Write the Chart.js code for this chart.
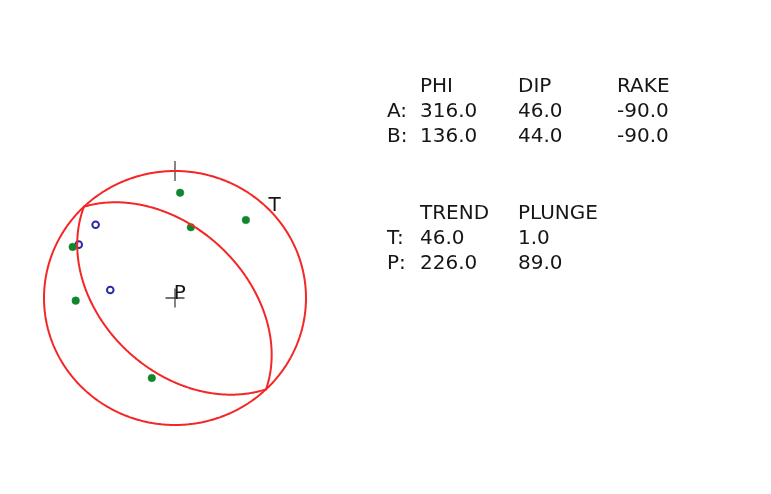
<!DOCTYPE html>
<html>
<head>
<meta charset="utf-8">
<title>Focal mechanism</title>
<script src="https://cdn.jsdelivr.net/npm/chart.js@4/dist/chart.umd.min.js"></script>
<style>
  html, body { margin: 0; padding: 0; background: #ffffff; }
  #wrap { width: 771px; height: 494px; position: relative; }
</style>
</head>
<body>
<div id="wrap"><canvas id="c" width="771" height="494"></canvas></div>
<script>
// Nodal planes (strike PHI, DIP, RAKE)
const planeNames = ['A', 'B'];
const planePhi = [316.0, 136.0];
const planeDip = [46.0, 44.0];
const planeRake = [-90.0, -90.0];

// Principal axes
const axisNames = ['T', 'P'];
const axisTrend = [46.0, 226.0];
const axisPlunge = [1.0, 89.0];

// Station polarities, projected onto the unit focal sphere (lower hemisphere)
const compX = [0.039, 0.541, 0.121, -0.781, -0.758, -0.177];
const compY = [0.829, 0.614, 0.557, 0.402, -0.021, -0.630];
const dilX = [-0.606, -0.735, -0.494];
const dilY = [0.577, 0.420, 0.063];

const RAD = Math.PI / 180;

// Schmidt (equal-area) projection of a line given by trend / plunge
function project(trend, plunge) {
  const r = Math.SQRT2 * Math.sin((90 - plunge) * RAD / 2);
  return { x: r * Math.sin(trend * RAD), y: r * Math.cos(trend * RAD) };
}

// Great circle traced by a plane of given strike and dip
function greatCircle(strike, dip) {
  const pts = [];
  for (let a = 0; a <= 180; a += 1) {
    const t = strike + Math.atan2(Math.sin(a * RAD) * Math.cos(dip * RAD), Math.cos(a * RAD)) / RAD;
    const p = Math.asin(Math.sin(a * RAD) * Math.sin(dip * RAD)) / RAD;
    pts.push(project(t, p));
  }
  return pts;
}

// Primitive circle of the net
function primitive() {
  const pts = [];
  for (let a = 0; a <= 360; a += 2) pts.push({ x: Math.sin(a * RAD), y: Math.cos(a * RAD) });
  return pts;
}

const RED = '#f42626';
const lineDs = (data) => ({
  data, showLine: true, borderColor: RED, borderWidth: 2,
  pointRadius: 0, fill: false, clip: false, tension: 0.001,
  borderJoinStyle: 'round', borderCapStyle: 'round'
});

const textPlugin = {
  id: 'focalText',
  afterDatasetsDraw(chart) {
    const ctx = chart.ctx;
    const xs = chart.scales.x, ys = chart.scales.y;
    ctx.save();
    ctx.fillStyle = '#161616';
    ctx.font = '20px "DejaVu Sans"';
    ctx.textBaseline = 'alphabetic';
    ctx.textAlign = 'left';

    // Axis labels at their projected positions
    axisNames.forEach((n, i) => {
      const q = project(axisTrend[i], axisPlunge[i]);
      ctx.fillText(n, xs.getPixelForValue(q.x), ys.getPixelForValue(q.y));
    });

    // Nodal plane table
    const c0 = 387, c1 = 420, c2 = 518, c3 = 617;
    let y = 91.5;
    ctx.fillText('PHI', c1, y); ctx.fillText('DIP', c2, y); ctx.fillText('RAKE', c3, y);
    planeNames.forEach((n, i) => {
      y += 25;
      ctx.fillText(n + ':', c0, y);
      ctx.fillText(planePhi[i].toFixed(1), c1, y);
      ctx.fillText(planeDip[i].toFixed(1), c2, y);
      ctx.fillText(planeRake[i].toFixed(1), c3, y);
    });

    // Axis table
    y = 218.5;
    ctx.fillText('TREND', c1, y); ctx.fillText('PLUNGE', c2, y);
    axisNames.forEach((n, i) => {
      y += 25;
      ctx.fillText(n + ':', c0, y);
      ctx.fillText(axisTrend[i].toFixed(1), c1, y);
      ctx.fillText(axisPlunge[i].toFixed(1), c2, y);
    });
    ctx.restore();
  }
};

new Chart(document.getElementById('c'), {
  type: 'scatter',
  data: {
    datasets: [
      lineDs(primitive()),
      lineDs(greatCircle(planePhi[0], planeDip[0])),
      lineDs(greatCircle(planePhi[1], planeDip[1])),
      {
        // north mark
        data: [{ x: 0, y: 1 }], pointStyle: 'line', rotation: 90, pointRadius: 10,
        borderColor: '#444444', borderWidth: 1.3, clip: false
      },
      {
        // centre mark
        data: [{ x: 0, y: 0 }], pointStyle: 'cross', pointRadius: 9.5,
        borderColor: '#444444', borderWidth: 1.3, clip: false
      },
      {
        data: compX.map((x, i) => ({ x, y: compY[i] })),
        pointRadius: 3.8, pointBackgroundColor: '#12862f', pointBorderColor: '#12862f',
        borderWidth: 0.5, clip: false
      },
      {
        data: dilX.map((x, i) => ({ x, y: dilY[i] })),
        pointRadius: 3.3, pointBackgroundColor: 'rgba(0,0,0,0)', pointBorderColor: '#2a2aa8',
        pointBorderWidth: 2, clip: false
      }
    ]
  },
  options: {
    responsive: false,
    animation: false,
    layout: { padding: { left: 44, right: 465, top: 171, bottom: 69 } },
    scales: {
      x: { type: 'linear', min: -1, max: 1, display: false },
      y: { type: 'linear', min: -1, max: 1, display: false }
    },
    plugins: { legend: { display: false }, tooltip: { enabled: false } }
  },
  plugins: [textPlugin]
});
</script>
</body>
</html>
